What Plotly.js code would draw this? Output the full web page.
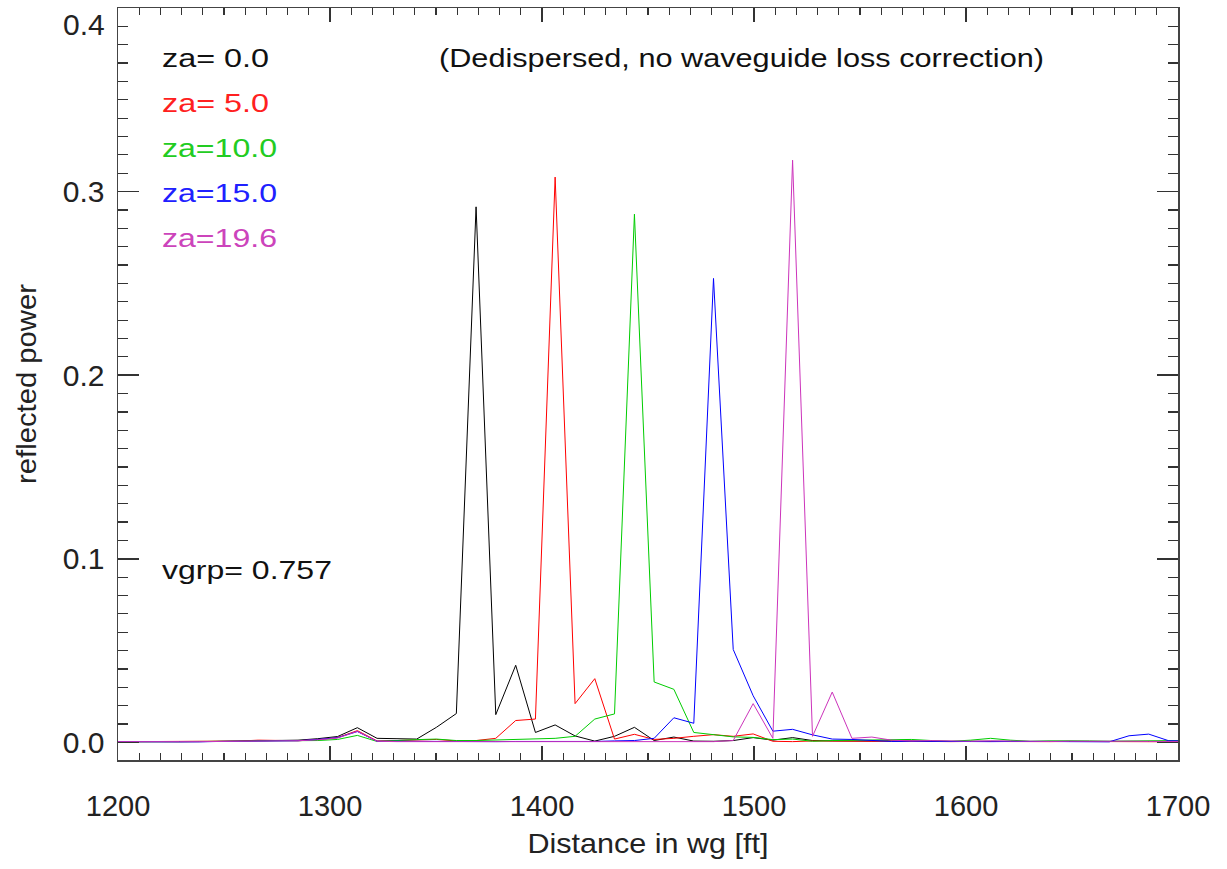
<!DOCTYPE html>
<html>
<head>
<meta charset="utf-8">
<script src="https://cdn.plot.ly/plotly-3.0.1.min.js"></script>
<style>html,body{margin:0;padding:0;background:#fff;}#chart{width:1227px;height:869px;}</style>
</head>
<body>
<div id="chart"></div>
<script>
// Distance in waveguide [ft]
const distance = [1191.6, 1200.9, 1210.2, 1219.6, 1228.9, 1238.2, 1247.6, 1256.9, 1266.2, 1275.6,
  1284.9, 1294.2, 1303.6, 1312.9, 1322.2, 1331.6, 1340.9, 1350.2, 1359.6, 1368.9,
  1378.2, 1387.6, 1396.9, 1406.2, 1415.6, 1424.9, 1434.2, 1443.6, 1452.9, 1462.2,
  1471.6, 1480.9, 1490.2, 1499.6, 1508.9, 1518.2, 1527.6, 1536.9, 1546.2, 1555.6,
  1564.9, 1574.2, 1583.6, 1592.9, 1602.2, 1611.6, 1620.9, 1630.2, 1639.6, 1648.9,
  1658.2, 1667.6, 1676.9, 1686.2, 1695.6, 1704.9];

const za00 = [0.0004, 0.0003, 0.0002, 0.0004, 0.0003, 0.0004, 0.0006, 0.0008, 0.0010, 0.0009,
  0.0012, 0.0020, 0.0032, 0.0080, 0.0022, 0.0020, 0.0018, 0.0082, 0.0157, 0.2917,
  0.0151, 0.0420, 0.0054, 0.0095, 0.0035, 0.0007, 0.0033, 0.0082, 0.0010, 0.0029,
  0.0007, 0.0006, 0.0010, 0.0026, 0.0012, 0.0026, 0.0010, 0.0008, 0.0006, 0.0007,
  0.0008, 0.0006, 0.0007, 0.0005, 0.0006, 0.0008, 0.0006, 0.0005, 0.0007, 0.0006,
  0.0005, 0.0006, 0.0007, 0.0005, 0.0006, 0.0005];

const za05 = [0.0003, 0.0003, 0.0004, 0.0003, 0.0004, 0.0003, 0.0005, 0.0007, 0.0012, 0.0010,
  0.0009, 0.0014, 0.0026, 0.0064, 0.0008, 0.0010, 0.0012, 0.0016, 0.0008, 0.0010,
  0.0022, 0.0119, 0.0127, 0.3079, 0.0211, 0.0347, 0.0018, 0.0044, 0.0016, 0.0022,
  0.0033, 0.0042, 0.0033, 0.0046, 0.0006, 0.0004, 0.0008, 0.0006, 0.0005, 0.0006,
  0.0007, 0.0005, 0.0006, 0.0004, 0.0005, 0.0004, 0.0005, 0.0006, 0.0004, 0.0005,
  0.0004, 0.0003, 0.0004, 0.0003, 0.0003, 0.0003];

const za10 = [0.0003, 0.0003, 0.0004, 0.0003, 0.0003, 0.0004, 0.0005, 0.0006, 0.0008, 0.0008,
  0.0007, 0.0010, 0.0016, 0.0038, 0.0005, 0.0012, 0.0015, 0.0018, 0.0010, 0.0010,
  0.0012, 0.0015, 0.0018, 0.0022, 0.0033, 0.0127, 0.0155, 0.2877, 0.0329, 0.0289,
  0.0054, 0.0044, 0.0030, 0.0027, 0.0015, 0.0018, 0.0006, 0.0010, 0.0012, 0.0014,
  0.0012, 0.0016, 0.0010, 0.0006, 0.0012, 0.0022, 0.0012, 0.0006, 0.0008, 0.0010,
  0.0008, 0.0006, 0.0008, 0.0006, 0.0010, 0.0010];

const za15 = [0.0004, 0.0003, 0.0003, 0.0004, 0.0004, 0.0003, 0.0005, 0.0007, 0.0009, 0.0010,
  0.0009, 0.0016, 0.0026, 0.0059, 0.0006, 0.0006, 0.0005, 0.0005, 0.0004, 0.0005,
  0.0004, 0.0005, 0.0004, 0.0005, 0.0006, 0.0005, 0.0008, 0.0010, 0.0022, 0.0134,
  0.0104, 0.2527, 0.0506, 0.0254, 0.0061, 0.0071, 0.0041, 0.0018, 0.0016, 0.0010,
  0.0005, 0.0006, 0.0005, 0.0004, 0.0005, 0.0004, 0.0005, 0.0006, 0.0005, 0.0004,
  0.0005, 0.0003, 0.0036, 0.0045, 0.0009, 0.0008];

const za196 = [0.0004, 0.0003, 0.0004, 0.0003, 0.0004, 0.0004, 0.0005, 0.0007, 0.0010, 0.0009,
  0.0009, 0.0014, 0.0024, 0.0060, 0.0006, 0.0004, 0.0004, 0.0004, 0.0004, 0.0004,
  0.0004, 0.0004, 0.0004, 0.0004, 0.0004, 0.0004, 0.0004, 0.0004, 0.0004, 0.0004,
  0.0004, 0.0004, 0.0010, 0.0211, 0.0022, 0.3171, 0.0033, 0.0274, 0.0022, 0.0029,
  0.0012, 0.0008, 0.0010, 0.0007, 0.0006, 0.0008, 0.0006, 0.0007, 0.0005, 0.0006,
  0.0007, 0.0005, 0.0006, 0.0005, 0.0006, 0.0005];

const seriesLabels = ['za= 0.0', 'za= 5.0', 'za=10.0', 'za=15.0', 'za=19.6'];
const seriesValues = [za00, za05, za10, za15, za196];
const seriesColors = ['#000000', '#ff0000', '#00cc00', '#0000ff', '#cc33bb'];
const textColors = ['#111111', '#ff2020', '#22cc22', '#2020ff', '#cc44bb'];

const xTicks = [1200, 1300, 1400, 1500, 1600, 1700];
const yTicks = [0.0, 0.1, 0.2, 0.3];
const yTickText = ['0.0', '0.1', '0.2', '0.3'];

const W = 1227, H = 869;
const L = 118, R = 49, T = 8, B = 109;
const pw = W - L - R, ph = H - T - B;
const px = x => (x - L) / pw;
const py = y => (H - B - y) / ph;

const traces = seriesValues.map((v, i) => ({
  x: distance, y: v, type: 'scatter', mode: 'lines',
  line: {color: seriesColors[i], width: 1},
  name: seriesLabels[i], showlegend: false, hoverinfo: 'skip'
}));

const fontFam = '"Liberation Sans", Arial, Helvetica, sans-serif';
const labelY = [58, 103, 148, 193, 238];
const labelW = [107, 107, 115, 115, 115];
const annotations = seriesLabels.map((t, i) => ({
  text: t, xref: 'paper', yref: 'paper', x: px(160), y: py(labelY[i]),
  xanchor: 'left', yanchor: 'middle', align: 'left', showarrow: false,
  font: {family: fontFam, size: 26, color: textColors[i]}
}));
annotations.push({
  text: '(Dedispersed, no waveguide loss correction)', xref: 'paper', yref: 'paper',
  x: px(437), y: py(58), xanchor: 'left', yanchor: 'middle', align: 'left', showarrow: false,
  font: {family: fontFam, size: 26, color: '#111111'}
});
annotations.push({
  text: 'vgrp= 0.757', xref: 'paper', yref: 'paper',
  x: px(160), y: py(570), xanchor: 'left', yanchor: 'middle', align: 'left', showarrow: false,
  font: {family: fontFam, size: 26, color: '#111111'}
});
annotations.push({
  text: '0.4', xref: 'paper', yref: 'paper',
  x: px(107), y: py(24), xanchor: 'right', yanchor: 'middle', showarrow: false,
  font: {family: fontFam, size: 30, color: '#222222'}
});
const annotW = labelW.concat([605, 170, null]);

const axisCommon = {
  showgrid: false, zeroline: false, showline: true, linecolor: '#444444', linewidth: 1.5,
  mirror: 'allticks', ticks: 'inside', tickcolor: '#333333', tickwidth: 1.5
};

const layout = {
  width: W, height: H,
  margin: {l: L, r: R, t: T, b: B, pad: 0},
  paper_bgcolor: '#ffffff', plot_bgcolor: '#ffffff',
  showlegend: false,
  xaxis: Object.assign({}, axisCommon, {
    range: [1200, 1700], tickmode: 'array', tickvals: xTicks, ticklen: 14,
    ticklabelstandoff: 20,
    tickfont: {family: fontFam, size: 29, color: '#222222'},
    minor: {ticks: 'inside', dtick: 10, ticklen: 7, tickcolor: '#333333', tickwidth: 1.2, showgrid: false},
    title: {text: 'Distance in wg [ft]', font: {family: fontFam, size: 28, color: '#222222'}, standoff: 12}
  }),
  yaxis: Object.assign({}, axisCommon, {
    range: [-0.0096, 0.4], tickmode: 'array', tickvals: yTicks, ticktext: yTickText, ticklen: 21,
    ticklabelstandoff: 6,
    tickfont: {family: fontFam, size: 30, color: '#222222'},
    minor: {ticks: 'inside', dtick: 0.01, ticklen: 10, tickcolor: '#333333', tickwidth: 1.2, showgrid: false},
    title: {text: 'reflected power', font: {family: fontFam, size: 28, color: '#222222'}, standoff: 18}
  }),
  annotations: annotations
};

Plotly.newPlot('chart', traces, layout, {staticPlot: true, displayModeBar: false}).then(gd => {
  // stretch text horizontally like the original raster fonts
  const texts = gd.querySelectorAll('.annotation-text');
  texts.forEach((el, i) => {
    if (annotW[i]) {
      el.setAttribute('textLength', annotW[i]);
      el.setAttribute('lengthAdjust', 'spacingAndGlyphs');
    }
  });
  const xt = gd.querySelector('.g-xtitle text');
  if (xt) { xt.setAttribute('textLength', 241); xt.setAttribute('lengthAdjust', 'spacingAndGlyphs'); }
  const yt = gd.querySelector('.g-ytitle text');
  if (yt) { yt.setAttribute('textLength', 200); yt.setAttribute('lengthAdjust', 'spacingAndGlyphs'); }
});
</script>
</body>
</html>
